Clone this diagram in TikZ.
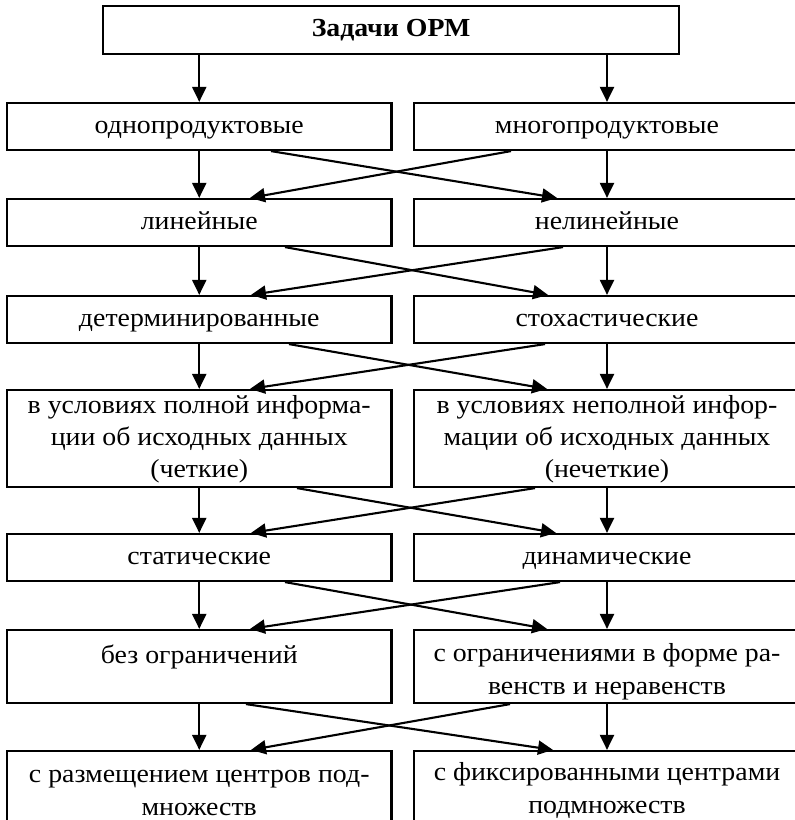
\documentclass[tikz,border=0pt]{standalone}
\usepackage{fontspec}
\setmainfont[FakeStretch=1.07]{Liberation Serif}
\usetikzlibrary{arrows.meta,calc}
\newcommand{\sx}{\strut}
\newcommand{\tfa}{\rule{0pt}{20pt}}
\newcommand{\tfb}{\rule[-3pt]{0pt}{3pt}}
\newcommand{\tsa}{\rule{0pt}{28pt}}
\newcommand{\tsb}{\rule[-1pt]{0pt}{1pt}}
\newcommand{\tva}{\rule{0pt}{24pt}}
\newcommand{\tvb}{\rule[-2pt]{0pt}{2pt}}
\begin{document}
\begin{tikzpicture}[x=1pt,y=-1pt,
  box/.style={draw,line width=2.2pt,inner sep=0pt,align=center,
    font=\fontsize{26}{33}\selectfont},
  lbox/.style={box,minimum width=384.5pt},
  rbox/.style={box,minimum width=386pt},
  tight/.style={font=\fontsize{26}{32}\selectfont},
  arr/.style={line width=2.1pt,-{Triangle[length=15pt,width=14pt]}}]
\useasboundingbox (0,0) rectangle (795,820);
\clip (0,0) rectangle (795,820);
\node[box,minimum width=576pt,minimum height=48pt] (top) at (391,30) {\sx\bfseries Задачи ОРМ\sx};
% row 1
\node[lbox,minimum height=47pt] (l1) at (199.25,126.5) {\sx однопродуктовые\sx};
\node[rbox,minimum height=47pt] (r1) at (607,126.5) {\sx многопродуктовые\sx};
% row 2
\node[lbox,minimum height=47pt] (l2) at (199.25,222.5) {\sx линейные\sx};
\node[rbox,minimum height=47pt] (r2) at (607,222.5) {\sx нелинейные\sx};
% row 3
\node[lbox,minimum height=47pt] (l3) at (199.25,319.5) {\sx детерминированные\sx};
\node[rbox,minimum height=47pt] (r3) at (607,319.5) {\sx стохастические\sx};
% row 4
\node[lbox,tight,minimum height=97pt] (l4) at (199.25,438.5) {\tfa в условиях полной информа-\\ции об исходных данных\\(четкие)\tfb};
\node[rbox,tight,minimum height=97pt] (r4) at (607,438.5) {\tfa в условиях неполной инфор-\\мации об исходных данных\\(нечеткие)\tfb};
% row 5
\node[lbox,minimum height=47pt] (l5) at (199.25,557.5) {\sx статические\sx};
\node[rbox,minimum height=47pt] (r5) at (607,557.5) {\sx динамические\sx};
% row 6
\node[lbox,minimum height=73pt] (l6) at (199.25,666.5) {\tsa без ограничений\\\tsb};
\node[rbox,minimum height=73pt] (r6) at (607,666.5) {\tsa с ограничениями в форме ра-\\венств и неравенств\tsb};
% row 7
\node[lbox,minimum height=73pt] (l7) at (199.25,787.5) {\tva с размещением центров под-\\множеств\tvb};
\node[rbox,minimum height=73pt] (r7) at (607,787.5) {\tva с фиксированными центрами\\подмножеств\tvb};
% arrows from top
\draw[arr] (l1.north |- top.south) -- (l1.north);
\draw[arr] (r1.north |- top.south) -- (r1.north);
% vertical arrows
\foreach \a/\b in {l1/l2,l2/l3,l3/l4,l4/l5,l5/l6,l6/l7,r1/r2,r2/r3,r3/r4,r4/r5,r5/r6,r6/r7}
  \draw[arr] (\a.south) -- (\b.north);
% cross arrows
\draw[arr] ([xshift=71.75pt]l1.south) -- ([xshift=-50pt]r2.north);
\draw[arr] ([xshift=-96pt]r1.south) -- ([xshift=50.75pt]l2.north);
\draw[arr] ([xshift=85.75pt]l2.south) -- ([xshift=-59pt]r3.north);
\draw[arr] ([xshift=-44pt]r2.south) -- ([xshift=51.75pt]l3.north);
\draw[arr] ([xshift=89.75pt]l3.south) -- ([xshift=-60pt]r4.north);
\draw[arr] ([xshift=-62pt]r3.south) -- ([xshift=50.75pt]l4.north);
\draw[arr] ([xshift=97.75pt]l4.south) -- ([xshift=-51pt]r5.north);
\draw[arr] ([xshift=-72pt]r4.south) -- ([xshift=51.75pt]l5.north);
\draw[arr] ([xshift=85.75pt]l5.south) -- ([xshift=-60pt]r6.north);
\draw[arr] ([xshift=-47pt]r5.south) -- ([xshift=50.75pt]l6.north);
\draw[arr] ([xshift=46.75pt]l6.south) -- ([xshift=-54pt]r7.north);
\draw[arr] ([xshift=-97pt]r6.south) -- ([xshift=51.75pt]l7.north);
\end{tikzpicture}
\end{document}
